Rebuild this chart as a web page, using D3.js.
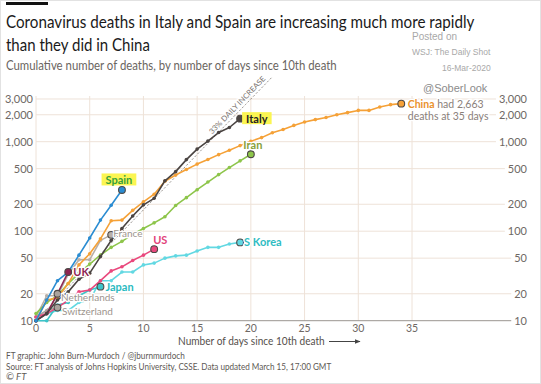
<!DOCTYPE html>
<html><head><meta charset="utf-8">
<script src="https://cdn.jsdelivr.net/npm/d3@7"></script>
<style>
html,body{margin:0;padding:0;background:#fff;}
svg{display:block;}
text{font-family:Lato,"Open Sans",sans-serif;}
</style></head>
<body>
<svg id="c" width="541" height="384"></svg>
<script>
// ---- data ----
const dayTicks = [0, 5, 10, 15, 20, 25, 30, 35];
const valueTicks = [10, 20, 50, 100, 200, 500, 1000, 2000, 3000];
const valueTickLabels = ["10", "20", "50", "100", "200", "500", "1,000", "2,000", "3,000"];
const spain = [10, 17, 28, 35, 54, 84, 133, 195, 289];
const italy = [10, 12, 17, 21, 29, 34, 52, 79, 107, 148, 197, 233, 366, 463, 631, 827, 1016, 1266, 1441, 1809];
const china = [10, 17, 18, 26, 42, 56, 82, 131, 133, 171, 213, 259, 361, 425, 490, 562, 632, 717, 804, 904, 1011, 1111, 1260, 1368, 1520, 1662, 1765, 1863, 2002, 2114, 2236, 2236, 2441, 2593, 2663];
const iran = [12, 16, 19, 26, 34, 43, 54, 66, 77, 92, 107, 124, 145, 194, 237, 291, 354, 429, 514, 611, 724];
const france = [11, 19, 19, 33, 48, 48, 79, 91];
const us = [11, 12, 14, 17, 21, 22, 28, 36, 40, 47, 54, 63];
const uk = [10, 12, 20, 35];
const netherlands = [10, 12, 20];
const switzerland = [11, 13, 14];
const japan = [10, 10, 15, 16, 19, 22, 24];
const sKorea = [10, 12, 13, 13, 16, 17, 28, 28, 35, 35, 42, 44, 50, 53, 54, 60, 66, 66, 72, 75];
const refRate = 0.33;      // 33% daily increase
const refEndDay = 22;

// ---- setup ----
const svg = d3.select("#c");
const x = d3.scaleLinear().domain([0, 35]).range([36, 412]);
const y = d3.scaleLog().domain([10, 1000]).range([320.7, 141.7]);

svg.append("rect").attr("x", 0.5).attr("y", 0.5).attr("width", 540).attr("height", 383)
  .attr("fill", "#fff").attr("stroke", "#e2e2e2");

// top black bar
svg.append("rect").attr("x", 6).attr("y", 2).attr("width", 42).attr("height", 3).attr("fill", "#111");

// text squeezed horizontally to a target width via a transform
function fitText(px, py, size, color, str, w) {
  const t = svg.append("text").attr("x", 0).attr("y", 0).attr("font-size", size).attr("fill", color).text(str);
  const nat = t.node().getComputedTextLength();
  const sx = Math.min(1, w / nat);
  t.attr("transform", `translate(${px},${py}) scale(${sx},1)`);
  return t;
}
fitText(6, 28, 17.5, "#1a1a1a", "Coronavirus deaths in Italy and Spain are increasing much more rapidly", 469);
fitText(6, 51, 17.5, "#1a1a1a", "than they did in China", 144);
fitText(6, 70, 12.5, "#6a6561", "Cumulative number of deaths, by number of days since 10th death", 331);

const arial = "'Liberation Sans',Arial,sans-serif";
svg.append("text").attr("x", 412).attr("y", 40).attr("font-size", 10).attr("fill", "#a8a8a8")
  .style("font-family", arial).text("Posted on");
svg.append("text").attr("x", 412).attr("y", 55).attr("font-size", 8.5).attr("fill", "#a8a8a8")
  .style("font-family", arial).text("WSJ: The Daily Shot");
svg.append("text").attr("x", 442).attr("y", 70.5).attr("font-size", 8.5).attr("fill", "#a8a8a8")
  .style("font-family", arial).text("16-Mar-2020");

const g = svg.append("g");

// vertical grid
g.selectAll(".vg").data(dayTicks).join("line")
  .attr("x1", d => x(d)).attr("x2", d => x(d))
  .attr("y1", y(10)).attr("y2", y(3000) - 3)
  .attr("stroke", "#eee2d8").attr("stroke-width", 1);

// y labels + horizontal grid
const labR = g.selectAll(".yr").data(valueTicks).join("text")
  .attr("x", 527).attr("y", d => y(d) + 4).attr("text-anchor", "end")
  .attr("font-size", 11).attr("fill", "#6e6864").text((d, i) => valueTickLabels[i]);
const labL = g.selectAll(".yl").data(valueTicks).join("text")
  .attr("x", 33).attr("y", d => y(d) + 4).attr("text-anchor", "end")
  .attr("font-size", 11).attr("fill", "#6e6864").text((d, i) => valueTickLabels[i]);
labR.each(function (d) {
  const w = this.getComputedTextLength();
  g.insert("line", "text")
    .attr("x1", x(0)).attr("x2", 527 - w - 3)
    .attr("y1", y(d)).attr("y2", y(d))
    .attr("stroke", d === 10 ? "#9b9591" : "#eee2d8").attr("stroke-width", 1);
});

// x labels
g.selectAll(".xl").data(dayTicks).join("text")
  .attr("x", d => x(d)).attr("y", 332).attr("text-anchor", "middle")
  .attr("font-size", 10.5).attr("fill", "#6e6864").text(d => d);

// x axis title with arrow
fitText(178, 344.5, 10.5, "#55504c", "Number of days since 10th death", 147);
svg.append("defs").append("marker").attr("id", "arr").attr("viewBox", "0 0 10 10")
  .attr("refX", 9).attr("refY", 5).attr("markerWidth", 6).attr("markerHeight", 6).attr("orient", "auto")
  .append("path").attr("d", "M0,1 L10,5 L0,9 z").attr("fill", "#444");
svg.append("line").attr("x1", 329).attr("x2", 360).attr("y1", 341.5).attr("y2", 341.5)
  .attr("stroke", "#444").attr("stroke-width", 1).attr("marker-end", "url(#arr)");

// footer
fitText(6, 359, 9.5, "#5e5955", "FT graphic: John Burn-Murdoch / @jburnmurdoch", 179);
fitText(6, 369.5, 9.5, "#5e5955", "Source: FT analysis of Johns Hopkins University, CSSE. Data updated March 15, 17:00 GMT", 326);
svg.append("text").attr("x", 6).attr("y", 379.5).attr("font-size", 9.5).attr("fill", "#5e5955")
  .attr("font-style", "italic").text("© FT");

svg.append("text").attr("x", 423).attr("y", 92).attr("font-size", 11).attr("fill", "#8c8c8c")
  .style("font-family", arial).text("@SoberLook");

// reference line 33%
const refPts = d3.range(0, refEndDay + 0.001, 0.5).map(d => [d, 10 * Math.pow(1 + refRate, d)]);
const line = d3.line().x(d => x(d[0])).y(d => y(d[1]));
g.append("path").attr("d", line(refPts)).attr("fill", "none")
  .attr("stroke", "#8f8a86").attr("stroke-width", 0.9).attr("stroke-dasharray", "2.2,1.8");
{
  const d0 = 16.6, d1 = 21.6;
  const p0 = [x(d0), y(10 * Math.pow(1 + refRate, d0))];
  const p1 = [x(d1), y(10 * Math.pow(1 + refRate, d1))];
  const ang = Math.atan2(p1[1] - p0[1], p1[0] - p0[0]) * 180 / Math.PI;
  const len = Math.hypot(p1[0] - p0[0], p1[1] - p0[1]);
  const t = g.append("text").attr("y", -3).attr("font-size", 7.5).attr("fill", "#7a7470")
    .attr("stroke", "#fff").attr("stroke-width", 2.5).attr("paint-order", "stroke")
    .text("33% DAILY INCREASE");
  const nat = t.node().getComputedTextLength();
  t.attr("transform", `translate(${p0[0]},${p0[1]}) rotate(${ang}) scale(${len / nat},1)`);
}

// series
const series = [
  { name: "S Korea", data: sKorea, color: "#62d8e2" },
  { name: "Japan", data: japan, color: "#3cc4c9" },
  { name: "Switzerland", data: switzerland, color: "#aaa29c" },
  { name: "Netherlands", data: netherlands, color: "#aaa29c" },
  { name: "France", data: france, color: "#b8afa8" },
  { name: "US", data: us, color: "#e9487d" },
  { name: "Iran", data: iran, color: "#8dc54a" },
  { name: "China", data: china, color: "#f5a137" },
  { name: "UK", data: uk, color: "#8e2452" },
  { name: "Italy", data: italy, color: "#4a4442" },
  { name: "Spain", data: spain, color: "#2a8cd2" }
];
const sl = d3.line().x((d, i) => x(i)).y(d => y(d));
series.forEach(s => {
  g.append("path").attr("d", sl(s.data)).attr("fill", "none")
    .attr("stroke", s.color).attr("stroke-width", 1.6).attr("stroke-linejoin", "round");
  g.selectAll(null).data(s.data).join("circle")
    .attr("cx", (d, i) => x(i)).attr("cy", d => y(d)).attr("r", 1.8).attr("fill", s.color);
});
series.forEach(s => {
  const n = s.data.length - 1;
  g.append("circle").attr("cx", x(n)).attr("cy", y(s.data[n])).attr("r", 3.4)
    .attr("fill", s.color).attr("stroke", "#4d4845").attr("stroke-width", 1.1);
});

// labels
const labels = [
  { s: "Spain", text: "Spain", dx: -3, dy: -6, anchor: "middle", color: "#36a03e", bold: true, size: 11, hl: true },
  { s: "Italy", text: "Italy", dx: 6, dy: 4, anchor: "start", color: "#222", bold: true, size: 11, hl: true },
  { s: "Iran", text: "Iran", dx: 2, dy: -5, anchor: "middle", color: "#86a03a", bold: true, size: 11 },
  { s: "S Korea", text: "S Korea", dx: 4, dy: 4, anchor: "start", color: "#2fbcc2", bold: true, size: 11 },
  { s: "US", text: "US", dx: -1, dy: -5, anchor: "start", color: "#e2437a", bold: true, size: 11 },
  { s: "Japan", text: "Japan", dx: 5, dy: 4.5, anchor: "start", color: "#2bbabf", bold: true, size: 11 },
  { s: "UK", text: "UK", dx: 5, dy: 4, anchor: "start", color: "#8e2452", bold: true, size: 11 },
  { s: "France", text: "France", dx: 2, dy: 2.5, anchor: "start", color: "#9d948d", bold: false, size: 10 },
  { s: "Netherlands", text: "Netherlands", dx: 3.5, dy: 7.5, anchor: "start", color: "#9d948d", bold: false, size: 10 },
  { s: "Switzerland", text: "Switzerland", dx: 4.5, dy: 7.5, anchor: "start", color: "#9d948d", bold: false, size: 10 }
];
const byName = {}; series.forEach(s => byName[s.name] = s);
labels.forEach(L => {
  const s = byName[L.s]; const n = s.data.length - 1;
  const px = x(n) + L.dx, py = y(s.data[n]) + L.dy;
  const t = g.append("text").attr("x", px).attr("y", py).attr("text-anchor", L.anchor)
    .attr("font-size", L.size).attr("font-weight", L.bold ? 700 : 400).attr("fill", L.color)
    .text(L.text);
  if (L.hl) {
    const b = t.node().getBBox();
    g.insert("rect", () => t.node()).attr("x", b.x - 4).attr("y", b.y + 0.5)
      .attr("width", b.width + 8).attr("height", b.height - 1).attr("fill", "#fbf552");
  } else {
    t.attr("stroke", "#fff").attr("stroke-width", 2.5).attr("paint-order", "stroke").attr("stroke-linejoin", "round");
  }
});
// China annotation
{
  const n = china.length - 1;
  const px = x(n) + 6.5, py = y(china[n]) + 4.5;
  const t = g.append("text").attr("x", px).attr("y", py).attr("font-size", 10.5).attr("fill", "#8a807a")
    .attr("stroke", "#fff").attr("stroke-width", 2.5).attr("paint-order", "stroke");
  t.append("tspan").attr("font-weight", 700).attr("fill", "#ea922b").text("China");
  t.append("tspan").text(" had " + d3.format(",")(china[n]));
  g.append("text").attr("x", px).attr("y", py + 11.5).attr("font-size", 10.5).attr("fill", "#8a807a")
    .attr("stroke", "#fff").attr("stroke-width", 2.5).attr("paint-order", "stroke")
    .text("deaths at 35 days");
}
</script>
</body></html>
